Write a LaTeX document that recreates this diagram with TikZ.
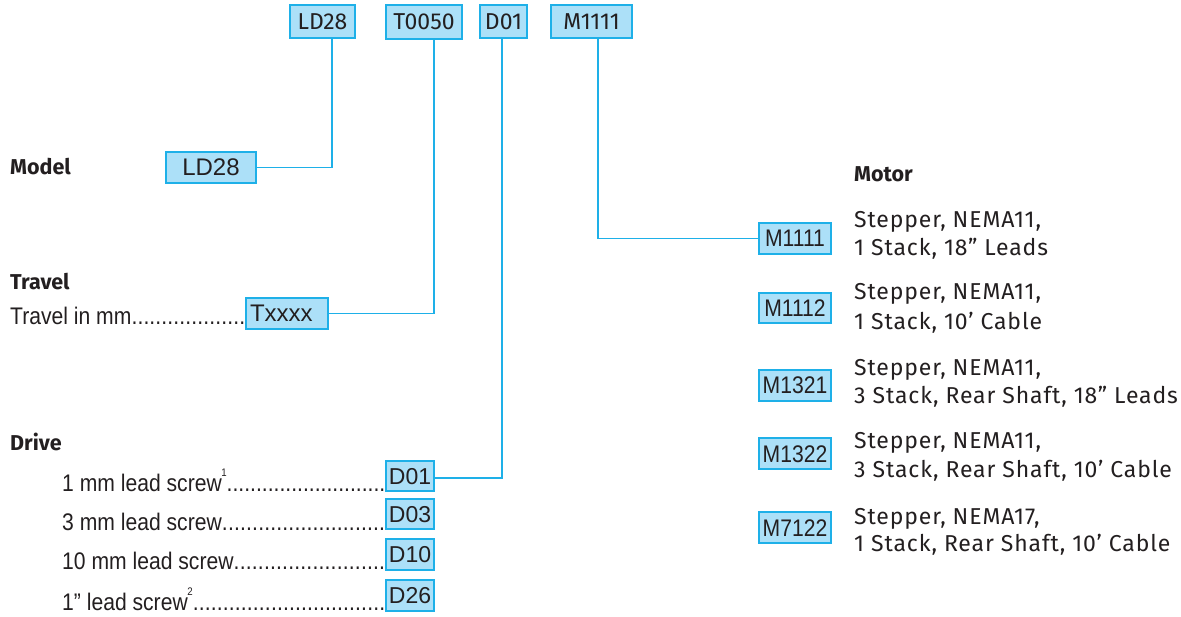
\documentclass[tikz,border=0pt]{standalone}
\usepackage{fontspec}
\setmainfont{Liberation Sans}
\newfontfamily\dinfont{Fira Sans}
\newfontfamily\dindesc[LetterSpace=3.8]{Fira Sans}
\newfontfamily\narrowfont[FakeStretch=0.88]{Liberation Sans}
\usetikzlibrary{shadows}
\definecolor{cyanline}{RGB}{30,176,232}
\definecolor{boxfill}{RGB}{172,224,248}
\definecolor{txt}{RGB}{35,31,32}
\tikzset{
  codebox/.style={draw=cyanline, fill=boxfill, line width=1.1pt, inner sep=0pt,
    text=txt, text depth=0pt, align=center,
    drop shadow={shadow xshift=1.4pt, shadow yshift=-1.4pt, fill=cyanline, opacity=1}},
  topbox/.style={codebox, font=\dinfont\fontsize{23}{23}\selectfont, text height=16pt, minimum height=33pt},
  wbox/.style={codebox, font=\fontsize{24}{24}\selectfont, text height=17pt, minimum height=31pt},
  dbox/.style={codebox, font=\fontsize{23}{23}\selectfont, text height=16.5pt, minimum height=30pt, minimum width=48pt},
  mbox/.style={codebox, font=\narrowfont\fontsize{24}{24}\selectfont, text height=17pt, minimum height=31pt, minimum width=72pt},
  conn/.style={draw=cyanline, line width=1.3pt},
  head/.style={anchor=base west, inner sep=0pt, text=txt, font=\dinfont\bfseries\fontsize{21.5}{21.5}\selectfont},
  desc/.style={anchor=base west, inner sep=0pt, text=txt, font=\dindesc\fontsize{23}{23}\selectfont},
  item/.style={anchor=base west, inner sep=0pt, text=txt, font=\narrowfont\fontsize{24}{24}\selectfont},
}
\newcommand{\leaderdots}{\xleaders\hbox{.}\hfill}
\newcommand{\supnum}[1]{\kern-0.5pt\raisebox{15pt}{\fontsize{11}{11}\selectfont#1}}
\begin{document}
\begin{tikzpicture}[x=1pt,y=-1pt]
\useasboundingbox (0,0) rectangle (1181,617);

% top code boxes
\node[topbox, minimum width=65pt] (tLD) at (322.5,21.5) {LD28};
\node[topbox, minimum width=76pt, minimum height=34pt] (tT) at (424,22) {T0050};
\node[topbox, minimum width=47pt] (tD) at (503.5,21.5) {D01};
\node[topbox, minimum width=81pt] (tM) at (591.5,21.5) {M1111};

% headings
\node[head] (hModel) at (10,175) {Model};
\node[head] (hTravel) at (10,290) {Travel};
\node[head] (hDrive) at (10,450) {Drive};
\node[head] (hMotor) at (854,182) {Motor};

% model
\node[wbox, minimum width=90pt] (bLD) at (211,167.5) {LD28};

% travel
\node[item] (lTravel) at (10,325) {\makebox[235pt][l]{Travel in mm\leaderdots}};
\node[wbox, minimum width=82pt, text width=74pt, align=left] (bT) at (287,313.5) {Txxxx};

% drive
\node[item] (l01) at (62,491.5) {\makebox[323pt][l]{1 mm lead screw\supnum{1}\leaderdots}};
\node[item] (l03) at (62,530) {\makebox[323pt][l]{3 mm lead screw\leaderdots}};
\node[item] (l10) at (62,569.5) {\makebox[323pt][l]{10 mm lead screw\leaderdots}};
\node[item] (l26) at (62,610) {\makebox[323pt][l]{1” lead screw\supnum{2}\leaderdots}};
\node[dbox] (D01) at (410,476) {D01};
\node[dbox] (D03) at (410,514) {D03};
\node[dbox, minimum height=31pt] (D10) at (410,554.5) {D10};
\node[dbox, minimum height=31pt] (D26) at (410,595.5) {D26};

% motor
\node[mbox] (M1111) at (795,238.5) {M1111};
\node[mbox, minimum height=30pt] (M1112) at (795,308) {M1112};
\node[mbox] (M1321) at (795,385.5) {M1321};
\node[mbox] (M1322) at (795,453.5) {M1322};
\node[mbox] (M7122) at (795,527.5) {M7122};

\node[desc] (d1a) at (854,228) {Stepper, NEMA11,};
\node[desc] (d1b) at (854,256) {1 Stack, 18” Leads};
\node[desc] (d2a) at (854,300) {Stepper, NEMA11,};
\node[desc] (d2b) at (854,330) {1 Stack, 10’ Cable};
\node[desc] (d3a) at (854,376) {Stepper, NEMA11,};
\node[desc] (d3b) at (854,403.5) {3 Stack, Rear Shaft, 18” Leads};
\node[desc] (d4a) at (854,448.5) {Stepper, NEMA11,};
\node[desc] (d4b) at (854,477.5) {3 Stack, Rear Shaft, 10’ Cable};
\node[desc] (d5a) at (854,524) {Stepper, NEMA17,};
\node[desc] (d5b) at (854,551) {1 Stack, Rear Shaft, 10’ Cable};

% connectors
\draw[conn] ([xshift=9.5pt]tLD.south) |- (bLD.east);
\draw[conn] ([xshift=10pt]tT.south) |- (bT.east);
\draw[conn] ([xshift=-1.5pt]tD.south) |- ([yshift=-2pt]D01.east);
\draw[conn] ([xshift=6.5pt]tM.south) |- (M1111.west);
\end{tikzpicture}
\end{document}
